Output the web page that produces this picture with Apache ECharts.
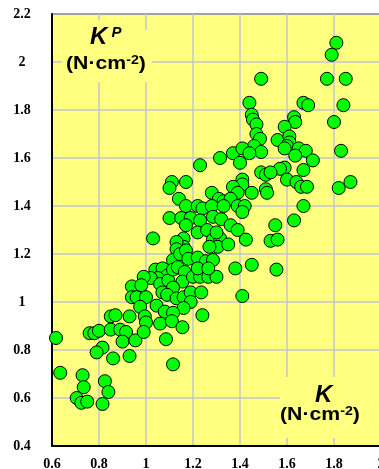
<!DOCTYPE html>
<html>
<head>
<meta charset="utf-8">
<script src="https://cdn.jsdelivr.net/npm/echarts@6/dist/echarts.min.js"></script>
<style>
html,body{margin:0;padding:0;background:#fff;}
#c{width:379px;height:469px;}
</style>
</head>
<body>
<div id="c"></div>
<script>
// K (N·cm-2) values
const kValues = [
1.81,1.79,1.49,1.77,1.85,1.44,1.67,1.69,1.84,1.45,1.455,1.47,1.63,1.635,1.80,1.59,
1.47,1.485,1.46,1.49,1.56,1.61,1.61,1.60,1.59,1.65,1.68,1.635,1.71,1.83,1.315,1.37,
1.41,1.44,1.40,1.23,1.67,1.59,1.57,1.49,1.51,1.53,1.60,1.64,1.66,1.685,1.82,1.87,
1.41,1.41,1.37,1.39,1.45,1.51,1.515,1.11,1.10,1.14,1.17,1.28,1.31,1.33,1.36,
1.17,1.22,1.24,1.28,1.33,1.39,1.42,1.41,1.67,1.63,1.55,
1.10,1.15,1.19,1.23,1.285,1.32,1.17,1.22,1.26,1.36,1.39,1.425,1.285,1.315,1.305,1.27,
1.35,1.30,1.16,1.16,1.03,1.13,1.13,1.53,1.56,
1.115,1.145,1.17,1.18,1.22,1.255,1.285,1.04,1.07,1.09,1.05,1.02,0.99,1.06,1.095,1.115,
1.135,1.165,1.155,1.20,1.23,1.265,1.30,1.22,1.265,0.94,0.98,1.115,1.38,1.45,1.555,
1.07,1.09,0.94,0.96,1.00,1.13,1.16,1.19,1.235,1.19,1.16,0.975,1.045,1.08,1.115,1.24,
1.41,0.85,0.87,0.93,0.995,1.00,1.06,1.11,1.155,
0.617,0.76,0.78,0.80,0.85,0.89,0.915,0.90,0.955,0.99,0.815,0.79,0.86,0.93,1.085,1.115,
0.635,0.73,0.735,0.705,0.725,0.75,0.825,0.84,0.815
];
// K^P (N·cm-2) values
const kpValues = [
2.08,2.03,1.93,1.93,1.93,1.83,1.83,1.82,1.82,1.78,1.76,1.74,1.77,1.75,1.75,1.73,
1.70,1.68,1.65,1.625,1.675,1.69,1.665,1.65,1.64,1.64,1.63,1.61,1.59,1.63,1.60,1.62,
1.64,1.62,1.58,1.57,1.55,1.56,1.555,1.54,1.53,1.54,1.51,1.50,1.48,1.48,1.475,1.50,
1.51,1.49,1.48,1.455,1.455,1.47,1.455,1.50,1.475,1.43,1.50,1.455,1.43,1.42,1.43,
1.40,1.40,1.39,1.40,1.40,1.40,1.40,1.375,1.40,1.34,1.32,
1.35,1.35,1.35,1.34,1.355,1.345,1.32,1.29,1.30,1.32,1.30,1.26,1.26,1.265,1.23,1.23,
1.24,1.29,1.265,1.23,1.265,1.25,1.22,1.255,1.26,
1.175,1.20,1.215,1.18,1.185,1.17,1.175,1.135,1.14,1.11,1.10,1.10,1.105,1.075,1.09,1.135,
1.145,1.125,1.085,1.105,1.105,1.105,1.105,1.14,1.14,1.065,1.07,1.06,1.14,1.155,1.135,
1.04,1.03,1.02,1.02,1.02,1.015,1.02,1.04,1.04,1.00,0.975,0.98,0.985,0.96,0.955,0.945,
1.025,0.94,0.945,0.94,0.94,0.915,0.91,0.92,0.895,
0.85,0.87,0.87,0.88,0.885,0.885,0.875,0.835,0.84,0.875,0.81,0.79,0.765,0.775,0.845,0.74,
0.705,0.695,0.645,0.60,0.58,0.585,0.67,0.625,0.575
];
const xTickLabels = ['0.6','0.8','1','1.2','1.4','1.6','1.8','2'];
const yTickLabels = ['0.4','0.6','0.8','1','1.2','1.4','1.6','1.8','2','2.2'];

const points = kValues.map((v, i) => [v, kpValues[i]]);

const chart = echarts.init(document.getElementById('c'), null, {renderer: 'canvas'});
const labelFont = {fontFamily: '"Liberation Serif", "Times New Roman", serif', fontWeight: 'bold', fontSize: 14, color: '#000'};
const YEL = '#FFFF80';
const sansB = '"Liberation Sans", Arial, sans-serif';
const unitRich = {
  m: {fontFamily: sansB, fontWeight: 'bold', fontSize: 18, fill: '#000'},
  s: {fontFamily: sansB, fontWeight: 'bold', fontSize: 12, verticalAlign: 'top', fill: '#000'}
};

chart.setOption({
  animation: false,
  backgroundColor: '#fff',
  grid: {left: 52, top: 14, right: -2, bottom: 23, outerBoundsMode: 'none', containLabel: false,
         show: true, backgroundColor: YEL, borderColor: '#000', borderWidth: 1.5},
  xAxis: {
    type: 'value', min: 0.6, max: 2.0, interval: 0.2,
    axisLine: {show: true, lineStyle: {color: '#000', width: 2}},
    axisTick: {show: false},
    splitLine: {show: true, lineStyle: {color: '#C4C4D0', width: 1.5}},
    axisLabel: Object.assign({margin: 11, showMaxLabel: true, showMinLabel: true, hideOverlap: false,
      formatter: (v, i) => xTickLabels[i]}, labelFont)
  },
  yAxis: {
    type: 'value', min: 0.4, max: 2.2, interval: 0.2,
    axisLine: {show: true, lineStyle: {color: '#000', width: 2}},
    axisTick: {show: false},
    splitLine: {show: true, lineStyle: {color: '#C4C4D0', width: 1.5}},
    axisLabel: Object.assign({margin: 30, align: 'center', formatter: (v, i) => yTickLabels[i]}, labelFont)
  },
  series: [{
    type: 'scatter',
    z: 5,
    symbol: 'circle',
    symbolSize: 13,
    itemStyle: {color: '#00FF00', borderColor: '#000', borderWidth: 1, opacity: 1},
    data: points
  }],
  graphic: [
    {type: 'rect', z: 3, shape: {x: 62, y: 30, width: 90, height: 52}, style: {fill: YEL}},
    {type: 'rect', z: 3, shape: {x: 80, y: 20, width: 60, height: 12}, style: {fill: YEL}},
    {type: 'rect', z: 3, shape: {x: 280, y: 377, width: 99, height: 61}, style: {fill: YEL}},
    {type: 'text', z: 4, x: 90, y: 25, style: {
      text: '{k|K}{p| P}', fill: '#000',
      rich: {
        k: {fontFamily: sansB, fontStyle: 'italic', fontWeight: 'bold', fontSize: 24, fill: '#000'},
        p: {fontFamily: sansB, fontStyle: 'italic', fontWeight: 'bold', fontSize: 15, verticalAlign: 'top', fill: '#000'}
      }
    }},
    {type: 'text', z: 4, x: 66, y: 55, scaleX: 1.18, style: {
      text: '{m|(N·cm}{s|-2}{m|)}', fill: '#000', rich: unitRich
    }},
    {type: 'text', z: 4, x: 315, y: 383, style: {
      text: 'K', fill: '#000', fontFamily: sansB, fontStyle: 'italic', fontWeight: 'bold', fontSize: 24
    }},
    {type: 'text', z: 4, x: 280, y: 406, scaleX: 1.18, style: {
      text: '{m|(N·cm}{s|-2}{m|)}', fill: '#000', rich: unitRich
    }}
  ]
});
</script>
</body>
</html>
